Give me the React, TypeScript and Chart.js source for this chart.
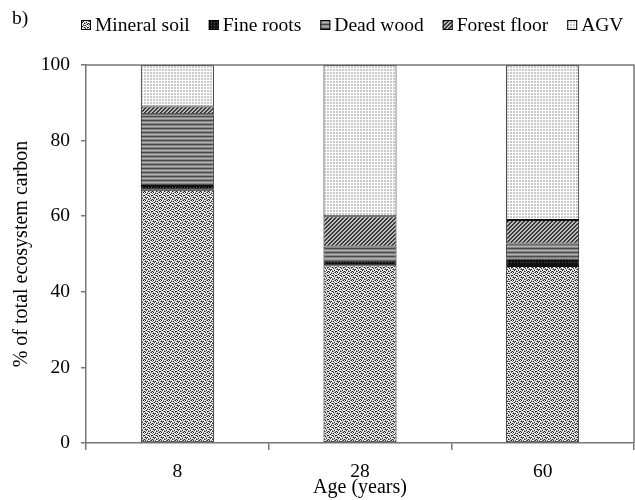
import React, { useEffect, useRef } from "react";
import { Chart, registerables } from "chart.js";

Chart.register(...registerables);

const categories = ["8", "28", "60"];
const mineralSoil = [67, 47, 46.8];
const fineRoots = [1, 1.2, 2];
const deadWood = [19, 3.8, 4];
const forestFloor = [2, 8, 6.2];
const agv = [11, 40, 41];
const seriesNames = ["Mineral soil", "Fine roots", "Dead wood", "Forest floor", "AGV"];
const panelLabel = "b)";
const xTitle = "Age (years)";
const yTitle = "% of total ecosystem carbon";

const FONT = '"Liberation Serif", "Times New Roman", serif';
const AXIS = "#777777";

function makePattern(rows: string[], palette: Record<string, string>) {
  const h = rows.length;
  const w = rows[0].length;
  const c = document.createElement("canvas");
  c.width = w;
  c.height = h;
  const ctx = c.getContext("2d")!;
  for (let y = 0; y < h; y++) {
    for (let x = 0; x < w; x++) {
      ctx.fillStyle = palette[rows[y][x]];
      ctx.fillRect(x, y, 1, 1);
    }
  }
  return ctx.createPattern(c, "repeat")!;
}

const legendPlugin = {
  id: "customLegend",
  afterDraw(chart: any) {
    const ctx = chart.ctx as CanvasRenderingContext2D;
    ctx.save();
    ctx.font = `19.5px ${FONT}`;
    ctx.fillStyle = "#000";
    ctx.textBaseline = "alphabetic";
    ctx.fillText(panelLabel, 12, 24);
    const box = 10;
    const gapText = 4;
    const gapItem = 19;
    let x = chart.chartArea.left - 5;
    chart.data.datasets.forEach((ds: any) => {
      ctx.fillStyle = ds.backgroundColor;
      ctx.fillRect(x, 20, box, box);
      ctx.strokeStyle = "#000";
      ctx.lineWidth = 1;
      ctx.strokeRect(x + 0.5, 20.5, box - 1, box - 1);
      ctx.fillStyle = "#000";
      ctx.fillText(ds.label, x + box + gapText, 31);
      x += box + gapText + ctx.measureText(ds.label).width + gapItem;
    });
    ctx.restore();
  },
};

const framePlugin = {
  id: "frame",
  afterDatasetsDraw(chart: any) {
    const { ctx, chartArea } = chart;
    ctx.save();
    ctx.strokeStyle = AXIS;
    ctx.lineWidth = 1.5;
    ctx.beginPath();
    ctx.moveTo(chartArea.left, chartArea.top);
    ctx.lineTo(chartArea.right, chartArea.top);
    ctx.lineTo(chartArea.right, chartArea.bottom);
    ctx.stroke();
    ctx.restore();
  },
};

export default function App() {
  const ref = useRef<HTMLCanvasElement>(null);
  useEffect(() => {
    document.body.style.margin = "0";
    const mineralPat = makePattern(
      [
        "WKWGWWGK",
        "GWWKGKWW",
        "WGKWWWGW",
        "KWWGKGWK",
        "WGWWWKWG",
        "GKGKWWGW",
        "WWKWGWKW",
        "KGWWKGWG",
      ],
      { K: "#222222", G: "#8c8c8c", W: "#f2f2f2" }
    );
    const rootsPat = makePattern(["KKK", "KDK", "KKK"], { K: "#111111", D: "#555555" });
    const woodPat = makePattern(["A", "B", "C", "B"], {
      A: "#4a4a4a",
      B: "#888888",
      C: "#b0b0b0",
    });
    const floorPat = makePattern(["DDLL", "DLLD", "LLDD", "LDDL"], { D: "#3a3a3a", L: "#bdbdbd" });
    const agvPat = makePattern(["GGW", "GGW", "WWW"], { G: "#c9c9c9", W: "#ffffff" });

    const values = [mineralSoil, fineRoots, deadWood, forestFloor, agv];
    const fills = [mineralPat, rootsPat, woodPat, floorPat, agvPat];

    const chart = new Chart(ref.current!, {
      type: "bar",
      data: {
        labels: categories,
        datasets: values.map((v, i) => ({
          label: seriesNames[i],
          data: v,
          backgroundColor: fills[i] as any,
          borderColor: "#111111",
          borderWidth: 1,
          borderSkipped: false,
          categoryPercentage: 1,
          barPercentage: 0.4,
        })),
      },
      options: {
        animation: false,
        responsive: false,
        maintainAspectRatio: false,
        layout: { padding: { top: 65, right: 1, left: 0, bottom: 0 } },
        plugins: { legend: { display: false }, tooltip: { enabled: false } },
        scales: {
          x: {
            stacked: true,
            afterFit: (s: any) => {
              s.height = 57;
            },
            grid: {
              offset: true,
              drawOnChartArea: false,
              drawTicks: true,
              tickLength: 7,
              color: AXIS,
              lineWidth: 1.5,
            },
            border: { color: AXIS, width: 1.5 },
            ticks: { color: "#000", font: { family: FONT, size: 19.5 }, padding: 10 },
            title: {
              display: true,
              text: xTitle,
              color: "#000",
              font: { family: FONT, size: 20 },
              padding: { top: 0, bottom: 0 },
            },
          },
          y: {
            stacked: true,
            min: 0,
            max: 100,
            afterFit: (s: any) => {
              s.width = 86;
            },
            grid: {
              drawOnChartArea: false,
              drawTicks: true,
              tickLength: 5,
              color: AXIS,
              lineWidth: 1.5,
            },
            border: { color: AXIS, width: 1.5 },
            ticks: {
              stepSize: 20,
              color: "#000",
              font: { family: FONT, size: 19.5 },
              padding: 11,
            },
            title: {
              display: true,
              text: yTitle,
              color: "#000",
              font: { family: FONT, size: 20 },
              padding: { top: 10, bottom: 0 },
            },
          },
        },
      },
      plugins: [legendPlugin, framePlugin],
    });
    return () => chart.destroy();
  }, []);
  return (
    <div style={{ width: 635, height: 500 }}>
      <canvas ref={ref} width={635} height={500} style={{ display: "block" }} />
    </div>
  );
}
